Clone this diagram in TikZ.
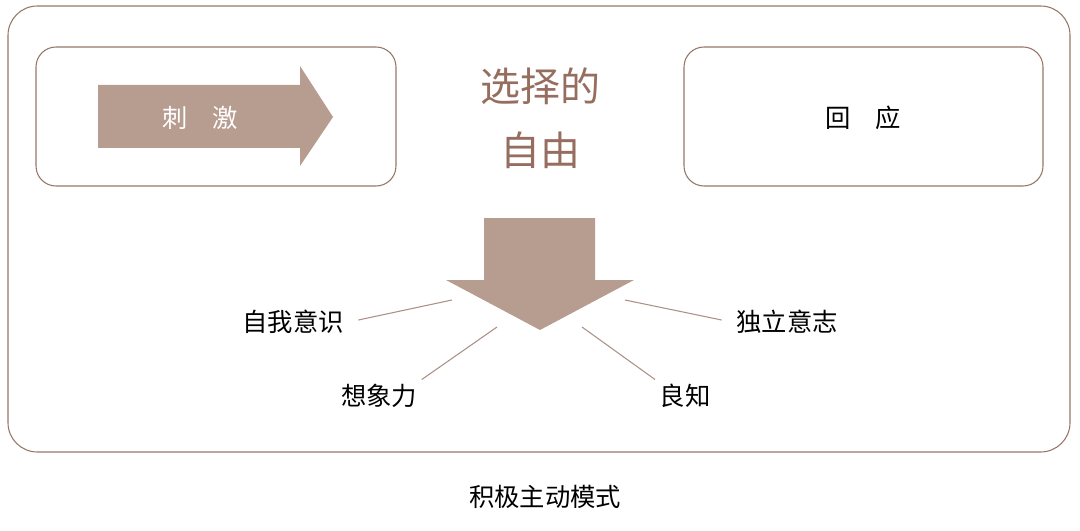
\documentclass[tikz,border=0pt]{standalone}
\usepackage{fontspec}
\setmainfont{Noto Sans CJK SC}
\begin{document}
\begin{tikzpicture}[x=0.75pt,y=-0.75pt]
\definecolor{edge}{RGB}{150,118,105}
\definecolor{fillc}{RGB}{183,156,144}
\definecolor{titc}{RGB}{150,110,95}
\tikzset{box/.style={draw=edge,line width=0.8pt,rounded corners=15pt},
lbl/.style={font=\fontsize{19}{22}\selectfont,text=black},
ln/.style={draw=edge!80,line width=0.8pt}}
\useasboundingbox (0,0) rectangle (1080,531);
\draw[box,rounded corners=22pt] (8,6) rectangle (1070,452);
\draw[box] (36,47) rectangle (396,186);
\draw[box] (684,47) rectangle (1043,186);
\fill[fillc] (98,85) -- (300,85) -- (300,66) -- (333,117) -- (300,166) -- (300,148) -- (98,148) -- cycle;
\node[lbl,text=white] (ci) at (200,118) {刺\quad 激};
\node[lbl] (hy) at (863,118) {回\quad 应};
\node[font=\fontsize{30}{34}\selectfont,text=titc] (t1) at (540,86) {选择的};
\node[font=\fontsize{30}{34}\selectfont,text=titc] (t2) at (540,150) {自由};
\fill[fillc] (484,218) -- (595,218) -- (595,280) -- (634,280) -- (540,330) -- (446,280) -- (484,280) -- cycle;
\node[lbl] (a) at (293,322) {自我意识};
\node[lbl] (b) at (787,322) {独立意志};
\node[lbl] (c) at (379,396) {想象力};
\node[lbl] (d) at (685,396) {良知};
\coordinate (pa) at (452,300);
\coordinate (pb) at (625,300);
\coordinate (pc) at (497,327);
\coordinate (pd) at (582,327);
\draw[ln] (a.east) ++(10,-2) -- (pa);
\draw[ln] (b.west) ++(-10,-2) -- (pb);
\draw[ln] (c.north east) ++(0,0) -- (pc);
\draw[ln] (d.north west) -- (pd);
\node[lbl] (bt) at (545,497) {积极主动模式};
\end{tikzpicture}
\end{document}
